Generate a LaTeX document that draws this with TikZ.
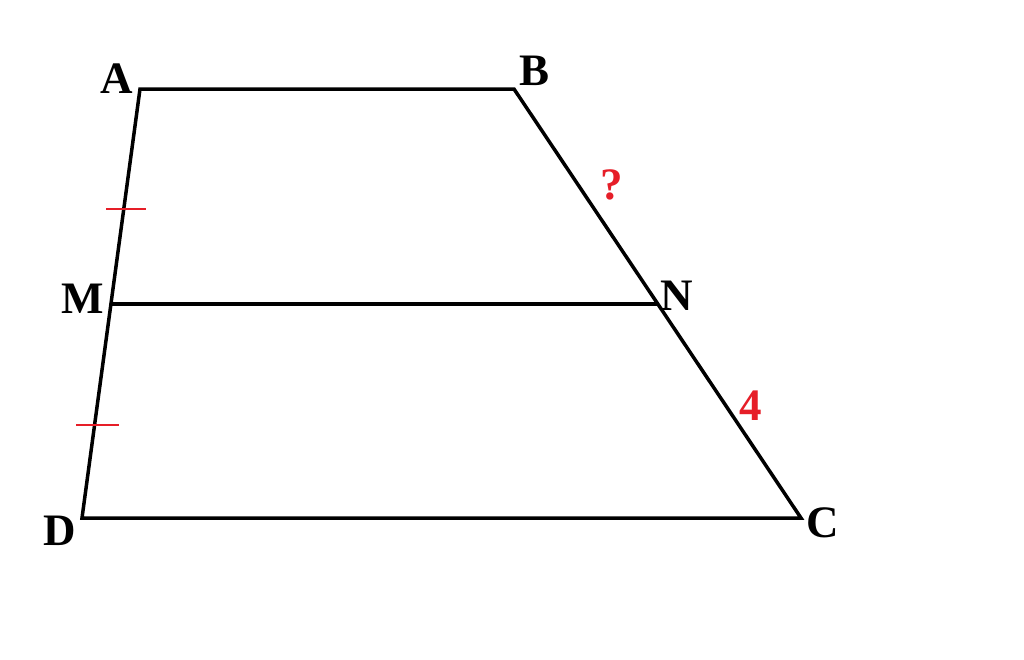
\documentclass[tikz,border=0pt]{standalone}
\usepackage{fontspec}
\setmainfont{Liberation Serif}
\begin{document}
\begin{tikzpicture}[x=1pt,y=-1pt,
  edge/.style={line width=3.5pt,line join=miter,black},
  tick/.style={line width=2pt,draw={rgb,255:red,230;green,30;blue,40}},
  lbl/.style={font=\fontsize{45}{45}\selectfont\bfseries,inner sep=0pt,anchor=base},
  rlbl/.style={lbl,text={rgb,255:red,230;green,30;blue,40}}]
\useasboundingbox[fill=white] (0,0) rectangle (1024,659);
\coordinate (A) at (140,89);
\coordinate (B) at (514,89);
\coordinate (C) at (801,518);
\coordinate (D) at (82,518);
\coordinate (M) at (111,304);
\coordinate (N) at (658,304);
\draw[edge] (A) -- (B) -- (C) -- (D) -- cycle;
\draw[edge] (M) -- (N);
\coordinate (t1a) at (106,209); \coordinate (t1b) at (146,209);
\coordinate (t2a) at (76,425); \coordinate (t2b) at (119,425);
\draw[tick] (t1a) -- (t1b);
\draw[tick] (t2a) -- (t2b);
\node[lbl] (lA) at (117,93) {A};
\node[lbl] (lB) at (534,85) {B};
\node[lbl] (lC) at (823,537) {C};
\node[lbl] (lD) at (60,545) {D};
\node[lbl] (lM) at (83,313) {M};
\node[lbl] (lN) at (677,310) {N};
\node[rlbl] (q) at (612,199) {?};
\node[rlbl] (four) at (751,420) {4};
\end{tikzpicture}
\end{document}
